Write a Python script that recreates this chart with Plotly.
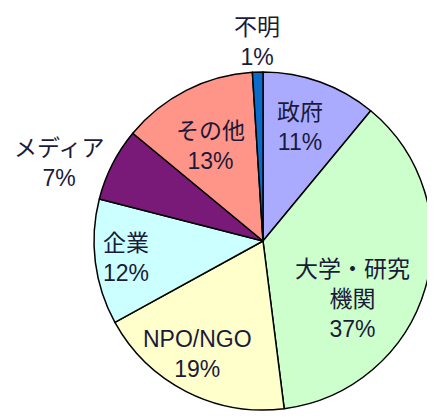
import math
import plotly.graph_objects as go

labels = ["政府", "大学・研究機関", "NPO/NGO", "企業", "メディア", "その他", "不明"]
display_labels = ["政府", "大学・研究<br>機関", "NPO/NGO", "企業", "メディア", "その他", "不明"]
values = [11, 37, 19, 12, 7, 13, 1]
colors = ["#AAAAFF", "#CCFFCC", "#FFFFCC", "#CCFFFF", "#7A1A78", "#FF9488", "#0A6CC8"]

# label placement: (radius fraction, angle shift in degrees)
label_place = [(0.71, -2), (0.63, 17), (0.77, 3), (0.82, 0), (1.29, -6), (0.64, -2), (1.18, 0)]

W, H = 435, 417
OFF = 8  # page body margin
CX, CY, R = 263 - OFF, 241 - OFF, 169

fig = go.Figure(go.Pie(
    labels=labels, values=values, sort=False, direction="clockwise", rotation=0,
    marker=dict(colors=colors, line=dict(color="#000000", width=1.5)),
    textinfo="none", hoverinfo="label+percent", showlegend=False,
    domain=dict(x=[(CX - R) / W, (CX + R) / W], y=[(H - CY - R) / H, (H - CY + R) / H]),
))

total = sum(values)
cum = 0
annotations = []
for lab, v, (rf, shift) in zip(display_labels, values, label_place):
    mid = (cum + v / 2) / total * 360 + shift
    cum += v
    px = CX + rf * R * math.sin(math.radians(mid))
    py = CY - rf * R * math.cos(math.radians(mid))
    pct = round(v / total * 100)
    annotations.append(dict(
        x=px / W, y=1 - py / H, xref="paper", yref="paper",
        text=f"{lab}<br>{pct}%", showarrow=False, xanchor="center", yanchor="middle",
        font=dict(family="Liberation Sans, Noto Sans CJK JP, sans-serif", size=23, color="#1a1a3a"),
    ))

fig.update_layout(
    width=W, height=H, margin=dict(l=0, r=0, t=0, b=0),
    paper_bgcolor="white", plot_bgcolor="white", annotations=annotations,
)
fig.write_html("out.html")
